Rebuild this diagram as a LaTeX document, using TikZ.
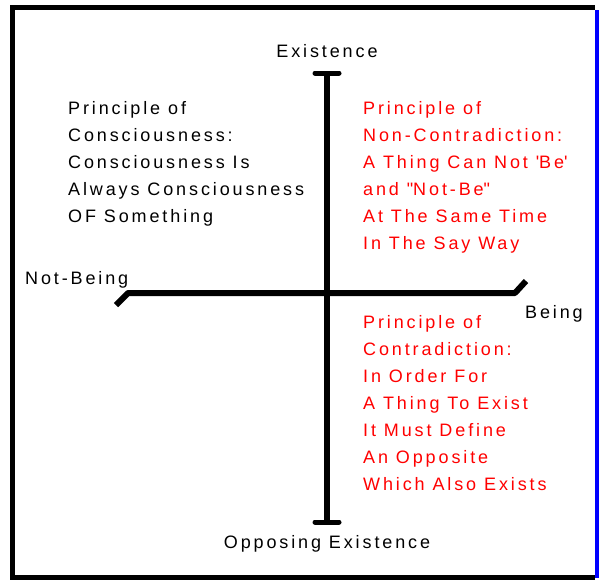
\documentclass[tikz,border=0pt]{standalone}
\usepackage{fontspec}
\setmainfont[LetterSpace=16]{Liberation Sans}
\usetikzlibrary{positioning}

\begin{document}
\begin{tikzpicture}[x=1pt,y=-1pt]
	 \tikzstyle{word}=[inner sep=0pt,font=\fontsize{18}{27}\selectfont]
	 \tikzstyle{block}=[word,align=left,anchor=north west]
	 \tikzstyle{axis}=[draw,line width=6pt,black,line join=round]
	 \tikzstyle{endbar}=[draw,line width=5pt,line cap=round,black]
	 \useasboundingbox (0,0) rectangle (600,582);

	 % frame
	 \draw[line width=5pt] (595,7.5) -- (12.5,7.5) -- (12.5,577) -- (595,577);
	 \draw[line width=4pt,blue] (597,10) -- (597,578);

	 \coordinate (top) at (327,73);
	 \coordinate (bot) at (327,522);
	 \coordinate (left) at (128,293);
	 \coordinate (right) at (515,293);
	 \coordinate (lt) at (116,305);
	 \coordinate (rt) at (526,281);

	 \draw[axis] (top) -- (bot);
	 \draw[endbar] ([xshift=-12pt]top) -- ([xshift=12pt]top);
	 \draw[endbar] ([xshift=-12pt]bot) -- ([xshift=12pt]bot);
	 \draw[axis] (lt) -- (left) -- (right) -- (rt);

	 \node[word,anchor=base] (exist) at (327,57) {Existence};
	 \node[word,anchor=base] (oppose) at (327,548) {Opposing Existence};
	 \node[word,anchor=base west] (notbeing) at (25,284) {Not-Being};
	 \node[word,anchor=base west] (being) at (525,318) {Being};

	 \node[block] (conscious) at (68,101) {Principle of\\Consciousness:\\Consciousness Is\\Always Consciousness\\OF Something};
	 \node[block,red] (noncontra) at (363,101) {Principle of\\Non-Contradiction:\\A Thing Can Not \textquotesingle Be\textquotesingle\\and \textquotedbl Not-Be\textquotedbl\\At The Same Time\\In The Say Way};
	 \node[block,red] (contra) at (363,315) {Principle of\\Contradiction:\\In Order For\\A Thing To Exist\\It Must Define\\An Opposite\\Which Also Exists};
\end{tikzpicture}
\end{document}
